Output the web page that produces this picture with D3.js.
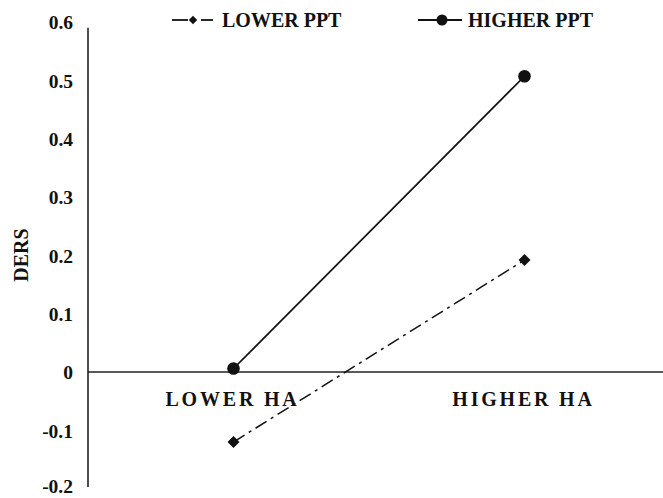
<!DOCTYPE html>
<html><head><meta charset="utf-8">
<script src="https://cdn.jsdelivr.net/npm/d3@7/dist/d3.min.js"></script>
<style>body{margin:0;background:#fff}svg{display:block}text{font-family:"Liberation Serif","Times New Roman",serif;font-weight:bold;fill:#111}</style>
</head><body><svg id="c" width="663" height="498"></svg>
<script>
const categories = ["LOWER HA", "HIGHER HA"];
const seriesNames = ["LOWER PPT", "HIGHER PPT"];
const lowerPPT = [-0.12, 0.192];
const higherPPT = [0.006, 0.507];
const yTicks = [-0.2, -0.1, 0, 0.1, 0.2, 0.3, 0.4, 0.5, 0.6];
const yTickLabels = ["-0.2", "-0.1", "0", "0.1", "0.2", "0.3", "0.4", "0.5", "0.6"];
const yLabel = "DERS";

const svg = d3.select("#c");
const y = d3.scaleLinear().domain([-0.2, 0.6]).range([488.7, 22]);
const x = d3.scaleBand().domain(categories).range([88, 670]).padding(0);
const cx = d => x(d) + x.bandwidth() / 2;

// y axis
const yAxis = d3.axisLeft(y).tickValues(yTicks).tickSize(0).tickPadding(15)
  .tickFormat((d, i) => yTickLabels[i]);
const gy = svg.append("g").attr("transform", "translate(88,0)").call(yAxis);
gy.select(".domain").attr("stroke", "#222").attr("stroke-width", 1.6).attr("d", `M0,${y(0.59)}V${y(-0.197)}`);
gy.selectAll("text").style("font-size", "19.5px").attr("dy", d => d === -0.2 ? "0.2em" : "0.35em");

// x zero line
svg.append("line").attr("x1", 88).attr("x2", 663).attr("y1", y(0)).attr("y2", y(0))
  .attr("stroke", "#222").attr("stroke-width", 1.6);
svg.selectAll(".cat").data(categories).join("text")
  .attr("x", d => cx(d) - 1).attr("y", y(0) + 34).attr("text-anchor", "middle")
  .style("font-size", "20px").style("letter-spacing", "2.8px").text(d => d);

// y label
svg.append("text").attr("transform", `translate(28,255) rotate(-90)`)
  .attr("text-anchor", "middle").style("font-size", "20px").text(yLabel);

const line = d3.line().x((d, i) => cx(categories[i])).y(d => y(d));
svg.append("path").datum(lowerPPT).attr("d", line).attr("fill", "none")
  .attr("stroke", "#111").attr("stroke-width", 1.5).attr("stroke-dasharray", "13,5,3,5");
svg.append("path").datum(higherPPT).attr("d", line).attr("fill", "none")
  .attr("stroke", "#111").attr("stroke-width", 1.7);

svg.selectAll(".dm").data(lowerPPT).join("path")
  .attr("transform", (d, i) => `translate(${cx(categories[i])},${y(d)}) rotate(45)`)
  .attr("d", d3.symbol().type(d3.symbolSquare).size(72)).attr("fill", "#111");
svg.selectAll(".ci").data(higherPPT).join("circle")
  .attr("cx", (d, i) => cx(categories[i])).attr("cy", d => y(d)).attr("r", 6.3).attr("fill", "#111");

// legend
const lg = svg.append("g");
const ly = 20;
lg.append("line").attr("x1", 172).attr("x2", 188).attr("y1", ly).attr("y2", ly).attr("stroke", "#111").attr("stroke-width", 1.8);
lg.append("line").attr("x1", 201).attr("x2", 213).attr("y1", ly).attr("y2", ly).attr("stroke", "#111").attr("stroke-width", 1.8);
lg.append("path").attr("transform", `translate(193,${ly}) rotate(45)`).attr("d", d3.symbol().type(d3.symbolSquare).size(36)).attr("fill", "#111");
lg.append("text").attr("x", 222).attr("y", ly).attr("dy", "0.35em").style("font-size", "20px").text(seriesNames[0]);
lg.append("line").attr("x1", 418).attr("x2", 462).attr("y1", ly).attr("y2", ly).attr("stroke", "#111").attr("stroke-width", 1.8);
lg.append("circle").attr("cx", 442).attr("cy", ly).attr("r", 5.5).attr("fill", "#111");
lg.append("text").attr("x", 468).attr("y", ly).attr("dy", "0.35em").style("font-size", "20px").text(seriesNames[1]);
</script></body></html>
